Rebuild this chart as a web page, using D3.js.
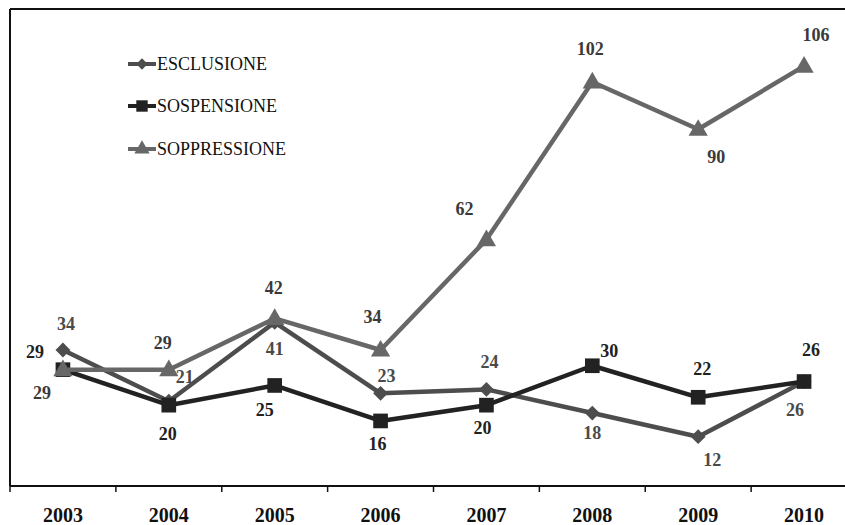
<!DOCTYPE html>
<html>
<head>
<meta charset="utf-8">
<script src="https://cdn.jsdelivr.net/npm/d3@7"></script>
<style>
  html, body { margin: 0; padding: 0; background: #fff; }
  svg { display: block; }
</style>
</head>
<body>
<svg id="chart" width="845" height="525"></svg>
<script>
// ---- data ----
const years = ["2003", "2004", "2005", "2006", "2007", "2008", "2009", "2010"];
const esclusione = [34, 21, 41, 23, 24, 18, 12, 26];
const sospensione = [29, 20, 25, 16, 20, 30, 22, 26];
const soppressione = [29, 29, 42, 34, 62, 102, 90, 106];
const seriesNames = ["ESCLUSIONE", "SOSPENSIONE", "SOPPRESSIONE"];

// ---- layout: data label offsets (dx, dy) from each point ----
const escLabelOffsets = [[3,-26],[16,-24],[0,27],[6,-17],[3,-27],[0,20],[14,23],[-9,28]];
const sosLabelOffsets = [[-28,-18],[-1,29],[-10,25],[-3,23],[-4,23],[17,-15],[4,-28],[7,-32]];
const sopLabelOffsets = [[-21,23],[-6,-27],[-1,-30],[-8,-33],[-22,-31],[-2,-33],[18,28],[12,-31]];

const series = [
  { name: seriesNames[0], values: esclusione, offs: escLabelOffsets, color: "#4d4d4d", labelColor: "#4a4a4a", marker: "diamond" },
  { name: seriesNames[1], values: sospensione, offs: sosLabelOffsets, color: "#222222", labelColor: "#222222", marker: "square" },
  { name: seriesNames[2], values: soppressione, offs: sopLabelOffsets, color: "#676767", labelColor: "#3a3a3a", marker: "triangle" }
];

const svg = d3.select("#chart");
const serif = "'Liberation Serif', 'Times New Roman', serif";

const x = d3.scaleBand().domain(years).range([10, 857]).padding(0);
const y = d3.scaleLinear().domain([0, 120]).range([484, 11]);
const cx = d => x(d) + x.bandwidth() / 2;

// frame
const axisY = 486;
svg.append("line").attr("x1", 10).attr("x2", 10).attr("y1", 9).attr("y2", axisY)
  .attr("stroke", "#111").attr("stroke-width", 2);
svg.append("line").attr("x1", 10).attr("x2", 845).attr("y1", 9).attr("y2", 9)
  .attr("stroke", "#111").attr("stroke-width", 2);

// x axis
const xAxis = svg.append("g").attr("transform", `translate(0,${axisY})`);
xAxis.append("line").attr("x1", 10).attr("x2", 845).attr("stroke", "#111").attr("stroke-width", 2);
xAxis.selectAll("line.tick").data(years).join("line").attr("class", "tick")
  .attr("x1", d => x(d)).attr("x2", d => x(d)).attr("y1", 0).attr("y2", 6)
  .attr("stroke", "#111").attr("stroke-width", 1.5);
xAxis.selectAll("text").data(years).join("text")
  .attr("x", d => cx(d)).attr("y", 29)
  .attr("text-anchor", "middle").attr("dominant-baseline", "central")
  .attr("font-family", serif).attr("font-weight", "bold").attr("font-size", 20)
  .attr("fill", "#111").text(d => d);

function markerPath(type, big) {
  if (type === "diamond") return d3.symbol(d3.symbolSquare, big ? 110 : 64)();
  if (type === "square") return d3.symbol(d3.symbolSquare, big ? 215 : 130)();
  return d3.symbol(d3.symbolTriangle, big ? 160 : 100)();
}

const line = d3.line().x(d => cx(d.year)).y(d => y(d.v));

series.forEach(s => {
  const pts = years.map((yr, i) => ({ year: yr, v: s.values[i] }));
  svg.append("path").datum(pts).attr("d", line)
    .attr("fill", "none").attr("stroke", s.color).attr("stroke-width", 4.5)
    .attr("stroke-linejoin", "round");
  svg.append("g").selectAll("path").data(pts).join("path")
    .attr("d", markerPath(s.marker, true))
    .attr("transform", d => `translate(${cx(d.year)},${y(d.v) + (s.marker === "triangle" ? 1 : 0)})` + (s.marker === "diamond" ? " rotate(45)" : ""))
    .attr("fill", s.color);
});

// data labels (on top)
series.forEach(s => {
  svg.append("g").selectAll("text").data(years).join("text")
    .attr("x", (d, i) => cx(d) + s.offs[i][0])
    .attr("y", (d, i) => y(s.values[i]) + s.offs[i][1])
    .attr("text-anchor", "middle").attr("dominant-baseline", "central")
    .attr("font-family", serif).attr("font-weight", "bold").attr("font-size", 18)
    .attr("fill", s.labelColor)
    .text((d, i) => s.values[i]);
});

// legend
const legendY = [64, 106, 149];
series.forEach((s, i) => {
  const g = svg.append("g").attr("transform", `translate(0,${legendY[i]})`);
  g.append("line").attr("x1", 128).attr("x2", 156).attr("stroke", s.color).attr("stroke-width", 4);
  g.append("path").attr("d", markerPath(s.marker, false))
    .attr("transform", `translate(142,0)` + (s.marker === "diamond" ? " rotate(45)" : ""))
    .attr("fill", s.color);
  g.append("text").attr("x", 157).attr("y", 0).attr("dominant-baseline", "central")
    .attr("font-family", serif).attr("font-size", 18).attr("fill", "#111").text(s.name);
});
</script>
</body>
</html>
